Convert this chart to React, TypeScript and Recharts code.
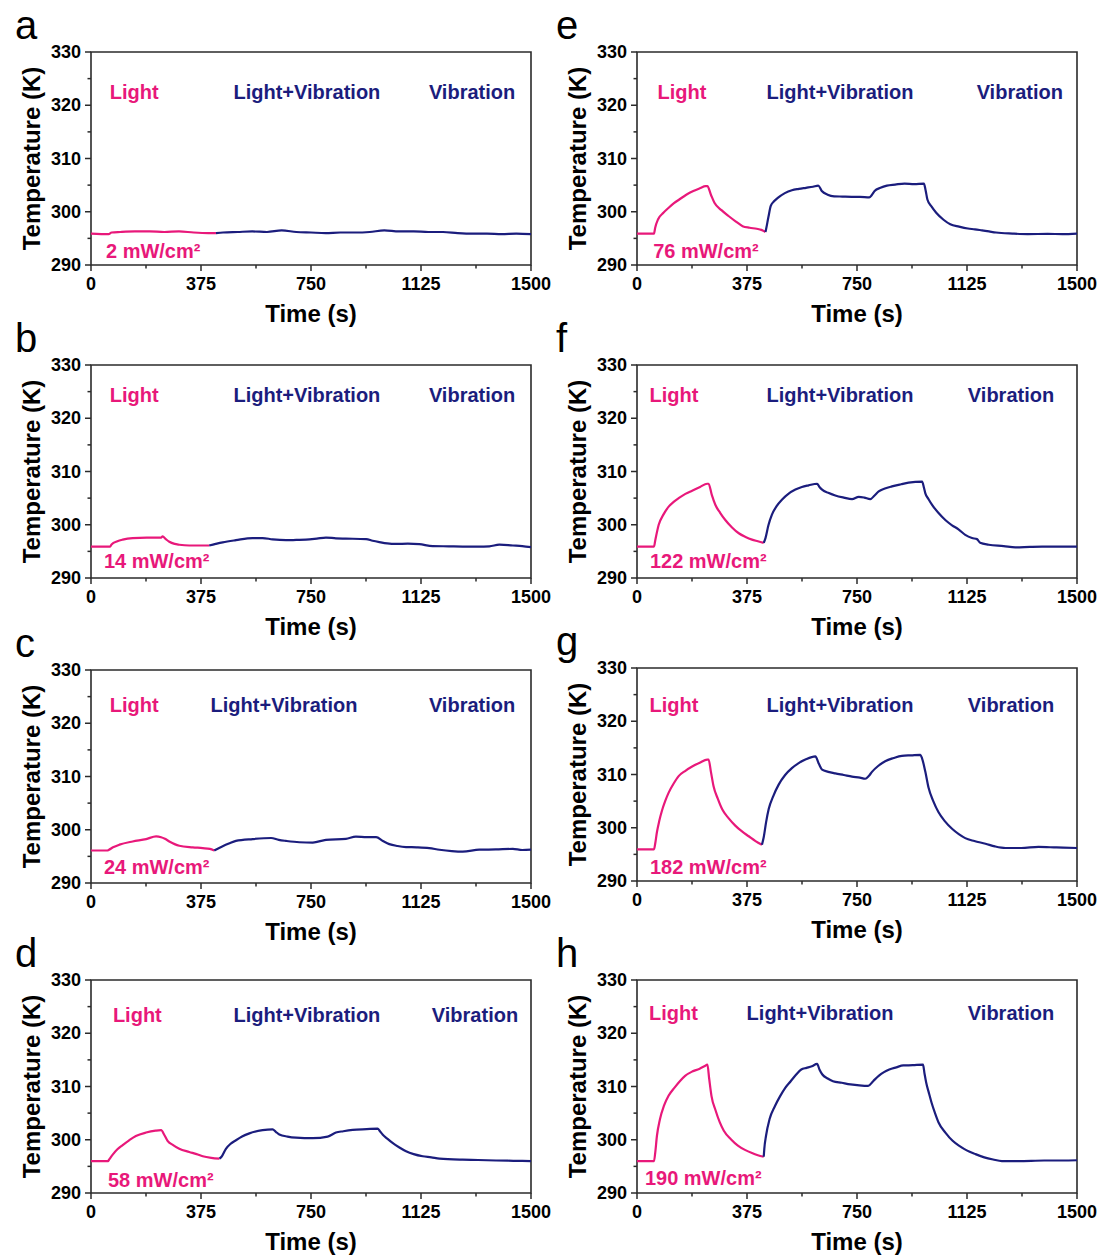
import React from 'react';
import { LineChart, Line, XAxis, YAxis, ReferenceArea, ReferenceDot, Label } from 'recharts';

const PINK = '#E8187A';
const NAVY = '#1B1D7D';
const AXIS = '#2b2b2b';
const FONT = '"Liberation Sans", Arial, Helvetica, sans-serif';

const xTicks = [0, 187.5, 375, 562.5, 750, 937.5, 1125, 1312.5, 1500];
const xMajor = [0, 375, 750, 1125, 1500];
const yTicks = [290, 295, 300, 305, 310, 315, 320, 325, 330];
const phaseNames = ['Light', 'Light+Vibration', 'Vibration'];
const letters = ['a', 'b', 'c', 'd', 'e', 'f', 'g', 'h'];
const powers = ['2 mW/cm²', '14 mW/cm²', '24 mW/cm²', '58 mW/cm²', '76 mW/cm²', '122 mW/cm²', '182 mW/cm²', '190 mW/cm²'];

type Pt = [number, number];

// [time (s), temperature (K)]
const lightA: Pt[] = [[0, 295.9], [60, 295.8], [70, 296.1], [100, 296.2], [150, 296.3], [200, 296.3], [250, 296.2], [300, 296.3], [350, 296.1], [400, 296.0], [426, 296.0]];
const vibA: Pt[] = [[426, 296.0], [450, 296.1], [500, 296.2], [550, 296.3], [600, 296.2], [650, 296.5], [700, 296.2], [750, 296.1], [800, 296.0], [850, 296.1], [900, 296.1], [950, 296.2], [1000, 296.5], [1050, 296.3], [1100, 296.3], [1150, 296.2], [1200, 296.2], [1250, 296.0], [1300, 295.9], [1350, 295.9], [1400, 295.8], [1450, 295.9], [1500, 295.8]];

const lightB: Pt[] = [[0, 295.9], [65, 295.9], [70, 296.3], [90, 296.9], [108, 297.2], [142, 297.5], [190, 297.6], [239, 297.6], [244, 297.8], [255, 297.3], [267, 296.8], [285, 296.4], [301, 296.25], [335, 296.1], [370, 296.1], [403, 296.1]];
const vibB: Pt[] = [[403, 296.1], [425, 296.4], [449, 296.7], [494, 297.1], [551, 297.5], [585, 297.5], [619, 297.25], [665, 297.1], [700, 297.15], [733, 297.2], [770, 297.4], [801, 297.6], [835, 297.45], [869, 297.4], [938, 297.3], [960, 297.0], [983, 296.75], [1010, 296.5], [1040, 296.4], [1080, 296.45], [1119, 296.35], [1165, 296.0], [1220, 295.95], [1267, 295.9], [1320, 295.9], [1358, 295.95], [1392, 296.25], [1438, 296.1], [1470, 296.0], [1500, 295.8]];

const lightC: Pt[] = [[0, 296.1], [55, 296.1], [60, 296.2], [75, 296.7], [97, 297.2], [142, 297.8], [188, 298.25], [222, 298.75], [239, 298.6], [252, 298.3], [267, 297.8], [285, 297.3], [301, 297.0], [347, 296.7], [381, 296.55], [405, 296.4], [420, 296.1]];
const vibC: Pt[] = [[420, 296.1], [449, 296.9], [470, 297.4], [494, 297.9], [551, 298.25], [614, 298.45], [640, 298.1], [665, 297.9], [710, 297.65], [756, 297.6], [801, 298.1], [869, 298.3], [903, 298.7], [940, 298.6], [972, 298.6], [995, 297.9], [1017, 297.3], [1045, 296.95], [1074, 296.75], [1110, 296.7], [1153, 296.55], [1188, 296.25], [1230, 296.0], [1267, 295.9], [1324, 296.25], [1380, 296.3], [1438, 296.4], [1470, 296.2], [1500, 296.25]];

const lightD: Pt[] = [[0, 296.0], [58, 296.0], [62, 296.3], [74, 297.2], [90, 298.2], [108, 299.0], [130, 299.9], [153, 300.7], [188, 301.35], [220, 301.7], [239, 301.8], [250, 300.9], [261, 299.8], [280, 299.0], [301, 298.3], [335, 297.7], [360, 297.3], [381, 296.9], [410, 296.6], [438, 296.45]];
const vibD: Pt[] = [[438, 296.45], [445, 296.8], [460, 298.3], [475, 299.2], [494, 299.9], [515, 300.6], [540, 301.2], [585, 301.8], [619, 301.95], [630, 301.5], [642, 301.0], [670, 300.6], [699, 300.4], [756, 300.3], [807, 300.6], [835, 301.35], [860, 301.6], [892, 301.85], [940, 302.0], [977, 302.1], [985, 301.6], [994, 301.0], [1010, 300.2], [1028, 299.4], [1050, 298.6], [1074, 297.85], [1100, 297.3], [1131, 296.9], [1160, 296.7], [1188, 296.45], [1267, 296.25], [1320, 296.2], [1381, 296.1], [1440, 296.05], [1500, 296.0]];

const lightE: Pt[] = [[0, 295.9], [58, 295.9], [62, 297.0], [72, 298.6], [90, 299.8], [108, 300.75], [126, 301.6], [144, 302.3], [168, 303.2], [192, 303.9], [214, 304.4], [234, 304.8], [240, 304.8], [252, 303.2], [264, 301.7], [288, 300.3], [312, 299.2], [336, 298.2], [360, 297.3], [384, 297.0], [408, 296.8], [424, 296.6], [438, 296.2]];
const vibE: Pt[] = [[438, 296.2], [440, 296.7], [448, 299.0], [456, 301.1], [468, 302.0], [480, 302.6], [504, 303.5], [528, 304.05], [552, 304.3], [576, 304.5], [600, 304.7], [618, 304.9], [630, 303.9], [650, 303.2], [672, 302.9], [700, 302.85], [732, 302.8], [760, 302.8], [792, 302.7], [800, 303.1], [810, 303.9], [830, 304.5], [852, 304.9], [880, 305.1], [912, 305.3], [945, 305.2], [978, 305.3], [984, 304.0], [990, 302.3], [1005, 300.9], [1020, 299.8], [1045, 298.5], [1068, 297.65], [1098, 297.2], [1128, 296.85], [1152, 296.7], [1176, 296.5], [1200, 296.3], [1224, 296.1], [1280, 295.9], [1332, 295.8], [1400, 295.85], [1450, 295.8], [1500, 295.9]];

const lightF: Pt[] = [[0, 295.9], [58, 295.9], [62, 297.0], [74, 300.0], [90, 301.9], [108, 303.4], [125, 304.3], [142, 305.0], [165, 305.8], [188, 306.4], [215, 307.1], [239, 307.7], [244, 307.7], [255, 305.6], [267, 303.75], [284, 302.2], [301, 300.9], [324, 299.5], [347, 298.4], [370, 297.7], [392, 297.2], [412, 296.9], [432, 296.6]];
const vibF: Pt[] = [[432, 296.6], [438, 297.5], [448, 299.9], [460, 301.9], [476, 303.5], [494, 304.7], [516, 305.8], [540, 306.6], [562, 307.1], [585, 307.4], [614, 307.7], [622, 307.1], [631, 306.6], [652, 306.0], [676, 305.5], [705, 305.1], [733, 304.8], [756, 305.25], [775, 305.1], [795, 304.8], [810, 305.5], [824, 306.25], [845, 306.8], [869, 307.2], [900, 307.6], [926, 307.9], [972, 308.1], [978, 307.0], [983, 305.9], [994, 304.8], [1006, 303.75], [1028, 302.2], [1051, 300.9], [1074, 299.9], [1097, 299.1], [1119, 298.1], [1142, 297.5], [1159, 297.3], [1170, 296.6], [1199, 296.25], [1250, 296.0], [1290, 295.75], [1340, 295.85], [1381, 295.9], [1440, 295.9], [1500, 295.9]];

const lightG: Pt[] = [[0, 295.95], [58, 295.95], [62, 297.0], [68, 299.2], [76, 301.3], [85, 303.2], [96, 305.0], [108, 306.6], [125, 308.3], [142, 309.7], [165, 310.7], [188, 311.5], [214, 312.2], [239, 312.8], [244, 312.8], [252, 310.5], [261, 307.8], [275, 305.5], [290, 303.5], [312, 301.8], [335, 300.4], [358, 299.3], [381, 298.4], [404, 297.5], [426, 296.8]];
const vibG: Pt[] = [[426, 296.8], [432, 298.2], [440, 301.0], [449, 303.5], [465, 306.0], [483, 308.1], [505, 309.9], [528, 311.2], [550, 312.1], [574, 312.8], [608, 313.4], [620, 312.0], [631, 310.9], [652, 310.5], [676, 310.2], [705, 309.9], [733, 309.6], [760, 309.4], [778, 309.2], [790, 309.7], [801, 310.5], [822, 311.6], [846, 312.5], [875, 313.1], [903, 313.5], [935, 313.6], [966, 313.7], [972, 313.0], [983, 310.5], [994, 307.5], [1010, 305.0], [1028, 302.9], [1050, 301.2], [1074, 299.8], [1097, 298.8], [1119, 298.05], [1150, 297.5], [1188, 297.0], [1220, 296.5], [1256, 296.2], [1310, 296.2], [1369, 296.4], [1430, 296.3], [1500, 296.2]];

const lightH: Pt[] = [[0, 296.0], [58, 296.0], [62, 297.5], [68, 300.75], [78, 303.8], [92, 306.4], [108, 308.3], [128, 309.8], [146, 311.0], [164, 312.0], [188, 312.8], [212, 313.3], [230, 313.8], [240, 314.1], [246, 311.5], [254, 308.2], [268, 305.5], [282, 303.3], [296, 301.7], [320, 300.1], [344, 298.9], [368, 298.1], [392, 297.5], [412, 297.1], [432, 296.8]];
const vibH: Pt[] = [[432, 296.8], [434, 298.3], [440, 300.8], [452, 303.9], [470, 306.3], [488, 308.2], [506, 309.8], [524, 311.0], [542, 312.2], [560, 313.2], [578, 313.5], [596, 313.8], [614, 314.25], [622, 313.2], [632, 312.25], [650, 311.5], [668, 311.0], [698, 310.7], [728, 310.4], [758, 310.2], [788, 310.1], [805, 311.0], [824, 312.0], [842, 312.7], [860, 313.2], [884, 313.6], [908, 313.95], [940, 314.0], [975, 314.1], [980, 312.5], [986, 310.7], [995, 308.8], [1004, 307.0], [1016, 305.0], [1028, 303.25], [1052, 301.3], [1076, 299.8], [1100, 298.8], [1124, 298.0], [1154, 297.3], [1184, 296.7], [1214, 296.3], [1244, 296.0], [1300, 296.0], [1388, 296.1], [1450, 296.1], [1500, 296.15]];

const lightSeries = [lightA, lightB, lightC, lightD, lightE, lightF, lightG, lightH];
const vibSeries = [vibA, vibB, vibC, vibD, vibE, vibF, vibG, vibH];

// layout of each panel: column, plot top (px), phase label anchors, power label anchor
const layout = [
  { col: 0, top: 52, labelK: 322.5, phaseT: [147, 736, 1299], powerAt: [51, 292.6] },
  { col: 0, top: 365, labelK: 324.4, phaseT: [147, 736, 1299], powerAt: [44, 293.2] },
  { col: 0, top: 670, labelK: 323.4, phaseT: [147, 658, 1299], powerAt: [44, 293.0] },
  { col: 0, top: 980, labelK: 323.4, phaseT: [158, 736, 1309], powerAt: [58, 292.4] },
  { col: 1, top: 52, labelK: 322.5, phaseT: [153, 692, 1305], powerAt: [55, 292.6] },
  { col: 1, top: 365, labelK: 324.4, phaseT: [126, 692, 1275], powerAt: [44, 293.2] },
  { col: 1, top: 668, labelK: 323.0, phaseT: [126, 692, 1275], powerAt: [44, 292.6] },
  { col: 1, top: 980, labelK: 323.8, phaseT: [124, 624, 1275], powerAt: [27, 292.8] },
];

const XTick = (props: any) => {
  const { x, y, payload } = props;
  const major = xMajor.includes(payload.value);
  return (
    <g>
      <line x1={x} y1={y} x2={x} y2={y + (major ? 6 : 3.5)} stroke={AXIS} strokeWidth={1.5} />
      {major && (
        <text x={x} y={y + 19} textAnchor="middle" dominantBaseline="central" fontFamily={FONT} fontWeight="bold" fontSize={18} fill="#000">
          {payload.value}
        </text>
      )}
    </g>
  );
};

const YTick = (props: any) => {
  const { x, y, payload } = props;
  const major = payload.value % 10 === 0;
  return (
    <g>
      <line x1={x} y1={y} x2={x - (major ? 6 : 3.5)} y2={y} stroke={AXIS} strokeWidth={1.5} />
      {major && (
        <text x={x - 10} y={y} textAnchor="end" dominantBaseline="central" fontFamily={FONT} fontWeight="bold" fontSize={18} fill="#000">
          {payload.value}
        </text>
      )}
    </g>
  );
};

const XTitle = (props: any) => {
  const { x, y, width } = props.viewBox;
  return (
    <text x={x + width / 2} y={y + 48} textAnchor="middle" dominantBaseline="central" fontFamily={FONT} fontWeight="bold" fontSize={24} fill="#000">
      Time (s)
    </text>
  );
};

const YTitle = (props: any) => {
  const { x, y, height } = props.viewBox;
  const cx = x + 23;
  const cy = y + height / 2;
  return (
    <text x={cx} y={cy} transform={`rotate(-90 ${cx} ${cy})`} textAnchor="middle" dominantBaseline="central" fontFamily={FONT} fontWeight="bold" fontSize={24} fill="#000">
      Temperature (K)
    </text>
  );
};

const note = (text: string, color: string, anchor: 'middle' | 'start') => (props: any) => {
  const { x, y } = props.viewBox;
  return (
    <text x={x} y={y} textAnchor={anchor} dominantBaseline="central" fontFamily={FONT} fontWeight="bold" fontSize={20} fill={color}>
      {text}
    </text>
  );
};

const Panel = ({ i }: { i: number }) => {
  const L = layout[i];
  const lightRows = lightSeries[i].map(([t, k]) => ({ t, k }));
  const vibRows = vibSeries[i].map(([t, k]) => ({ t, k }));
  const phaseColors = [PINK, NAVY, NAVY];
  return (
    <div style={{ position: 'absolute', left: L.col * 546, top: L.top - 52 }}>
      <LineChart width={552} height={330} margin={{ top: 52, right: 21, bottom: 0, left: 8 }}>
        <XAxis
          dataKey="t"
          type="number"
          domain={[0, 1500]}
          ticks={xTicks}
          interval={0}
          tickSize={0}
          tickMargin={0}
          axisLine={false}
          tickLine={false}
          tick={<XTick />}
          height={65}
          allowDataOverflow
        >
          <Label content={<XTitle />} />
        </XAxis>
        <YAxis
          type="number"
          domain={[290, 330]}
          ticks={yTicks}
          interval={0}
          tickSize={0}
          tickMargin={0}
          axisLine={false}
          tickLine={false}
          tick={<YTick />}
          width={83}
          allowDataOverflow
        >
          <Label content={<YTitle />} />
        </YAxis>
        <ReferenceArea x1={0} x2={1500} y1={290} y2={330} fill="none" stroke={AXIS} strokeWidth={1.6} fillOpacity={0} />
        <Line data={lightRows} dataKey="k" type="monotoneX" stroke={PINK} strokeWidth={2.2} dot={false} activeDot={false} isAnimationActive={false} />
        <Line data={vibRows} dataKey="k" type="monotoneX" stroke={NAVY} strokeWidth={2.2} dot={false} activeDot={false} isAnimationActive={false} />
        {phaseNames.map((name, j) => (
          <ReferenceDot key={name} x={L.phaseT[j]} y={L.labelK} r={0} stroke="none" fill="none">
            <Label content={note(name, phaseColors[j], 'middle')} />
          </ReferenceDot>
        ))}
        <ReferenceDot x={L.powerAt[0]} y={L.powerAt[1]} r={0} stroke="none" fill="none">
          <Label content={note(powers[i], PINK, 'start')} />
        </ReferenceDot>
      </LineChart>
    </div>
  );
};

export default function App() {
  return (
    <div style={{ position: 'absolute', left: 0, top: 0, width: 1104, height: 1258, background: '#fff', overflow: 'hidden' }}>
      {letters.map((_, i) => (
        <Panel key={i} i={i} />
      ))}
      <svg width={1104} height={1258} style={{ position: 'absolute', left: 0, top: 0, pointerEvents: 'none' }}>
        {letters.map((ch, i) => (
          <text
            key={ch}
            x={layout[i].col * 546 + (layout[i].col ? 10 : 15)}
            y={layout[i].top - 13}
            fontFamily={FONT}
            fontSize={40}
            fill="#000"
          >
            {ch}
          </text>
        ))}
      </svg>
    </div>
  );
}
